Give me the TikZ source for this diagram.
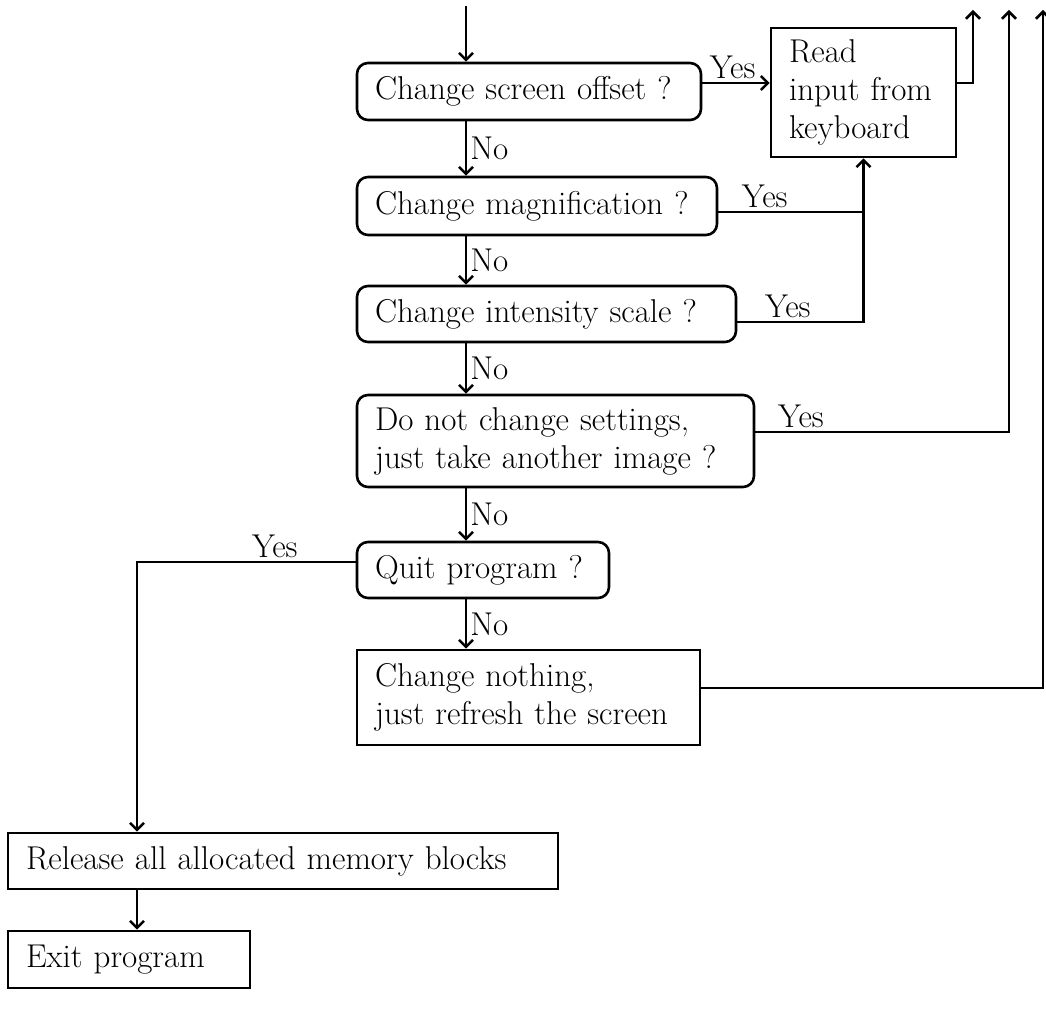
\documentclass[tikz,border=0pt]{standalone}
\usetikzlibrary{arrows.meta}
\begin{document}
\begin{tikzpicture}[x=0.5pt,y=-0.5pt,
  line width=1.3pt,
  every node/.style={font=\fontsize{16.5}{19}\selectfont},
  box/.style={draw, line width=1.3pt, align=left, inner xsep=9pt, inner ysep=0pt},
  rbox/.style={box, rounded corners=5.5pt},
  flow/.style={line width=1.3pt, -{Straight Barb[length=3.5pt,width=7pt]}},
  lbl/.style={inner sep=1.5pt}]
\useasboundingbox (0,0) rectangle (1046,1020);

% decision boxes (rounded) and action boxes (square); text width = box width - 2*9pt
\node[rbox, text width=154pt, minimum height=28.5pt] (b1) at (529,91.5) {Change screen offset ?};
\node[rbox, text width=162pt, minimum height=29pt] (b2) at (537,206) {Change magnification ?};
\node[rbox, text width=171.5pt, minimum height=28pt] (b3) at (546.5,314) {Change intensity scale ?};
\node[rbox, text width=180.5pt, minimum height=46pt] (b4) at (555.5,441) {Do not change settings,\\just take another image ?};
\node[rbox, text width=108pt, minimum height=28pt] (b5) at (483,570) {Quit program ?};
\node[box, text width=153.5pt, minimum height=47.5pt] (b6) at (528.5,697.5) {Change nothing,\\just refresh the screen};
\node[box, text width=74.5pt, minimum height=64.5pt] (read) at (863.5,92.5) {Read\\input from\\keyboard};
\node[box, text width=257pt, minimum height=28pt] (rel) at (283,861) {Release all allocated memory blocks};
\node[box, text width=103pt, minimum height=28.5pt] (exit) at (129,959.5) {Exit program};

% helper coordinates for columns and rows of the connectors
\coordinate (entry) at (466,6);
\coordinate (colL) at (137,0);
\coordinate (y1) at (0,83);
\coordinate (y2) at (0,212);
\coordinate (y3) at (0,322);
\coordinate (y4) at (0,432);
\coordinate (y5) at (0,562);
\coordinate (y6) at (0,688);
\coordinate (up1) at (973,10);
\coordinate (up2) at (1009,10);
\coordinate (up3) at (1043,10);

% main "No" chain
\draw[flow] (entry) -- (entry |- b1.north);
\draw[flow] (b1.south -| entry) -- node[lbl, anchor=west]{No} (b2.north -| entry);
\draw[flow] (b2.south -| entry) -- node[lbl, anchor=west]{No} (b3.north -| entry);
\draw[flow] (b3.south -| entry) -- node[lbl, anchor=west]{No} (b4.north -| entry);
\draw[flow] (b4.south -| entry) -- node[lbl, anchor=west]{No} (b5.north -| entry);
\draw[flow] (b5.south -| entry) -- node[lbl, anchor=west]{No} (b6.north -| entry);

% "Yes" branches
\draw[flow] (b1.east |- y1) -- node[lbl, anchor=south, pos=0.45]{Yes} (read.west |- y1);
\draw (b2.east |- y2) -- node[lbl, anchor=south, pos=0.32]{Yes} (read.south |- y2);
\draw[flow] (b3.east |- y3) -| node[lbl, anchor=south, pos=0.2]{Yes} (read.south);
\draw[flow] (b4.east |- y4) -| node[lbl, anchor=south, pos=0.09]{Yes} (up2);
\draw[flow] (b5.west |- y5) -| node[lbl, anchor=south, pos=0.185]{Yes} (rel.north -| colL);

% loop-back exits
\draw[flow] (read.east |- y1) -| (up1);
\draw[flow] (b6.east |- y6) -| (up3);

% program end
\draw[flow] (rel.south -| colL) -- (exit.north -| colL);
\end{tikzpicture}
\end{document}
